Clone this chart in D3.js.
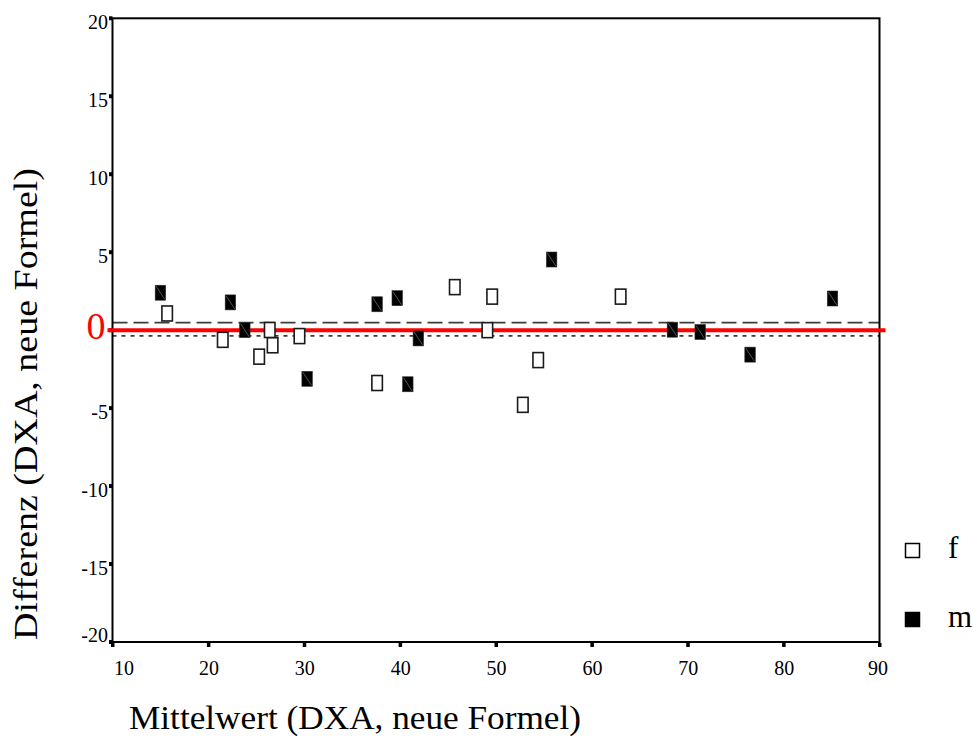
<!DOCTYPE html>
<html>
<head>
<meta charset="utf-8">
<script src="https://cdn.jsdelivr.net/npm/d3@7"></script>
<style>
  html, body { margin: 0; padding: 0; background: #fff; }
  svg { display: block; }
  text { font-family: "Liberation Serif", "Times New Roman", serif; }
</style>
</head>
<body>
<script>
// ---- data ----
const xTicks = [10, 20, 30, 40, 50, 60, 70, 80, 90];
const yTicks = [-20, -15, -10, -5, 5, 10, 15, 20];

const fMean = [15.7, 21.5, 25.3, 26.4, 26.7, 29.5, 37.6, 45.7, 49.1, 49.6, 52.8, 54.4, 63.0];
const fDiff = [1.07, -0.62, -1.70, 0.01, -0.97, -0.38, -3.39, 2.76, 0.0, 2.15, -4.79, -1.92, 2.15];

const mMean = [15.0, 22.3, 23.8, 30.3, 37.6, 39.7, 40.8, 41.9, 55.8, 68.4, 71.3, 76.5, 85.1];
const mDiff = [2.40, 1.78, 0.0, -3.12, 1.66, 2.05, -3.47, -0.53, 4.53, 0.03, -0.12, -1.57, 2.03];

const zeroLine = 0;
const dashedLine = 0.48;   // long dashes
const dottedLine = -0.37;  // short dashes

const legendItems = ["f", "m"];
const xTitle = "Mittelwert (DXA, neue Formel)";
const yTitle = "Differenz (DXA, neue Formel)";

// ---- drawing ----
const W = 980, H = 749;
const svg = d3.select("body").append("svg").attr("width", W).attr("height", H);

const x = d3.scaleLinear().domain([10, 90]).range([112.5, 879.5]);
const y = d3.scaleLinear().domain([-20, 20]).range([642, 18.3]);
const fmt = d => String(d);  // plain hyphen-minus as in the reference

// reference lines
const lines = svg.append("g");
lines.append("line")
  .attr("x1", x(10)).attr("x2", x(90))
  .attr("y1", y(dashedLine)).attr("y2", y(dashedLine))
  .attr("stroke", "#3c3c3c").attr("stroke-width", 1.6)
  .attr("stroke-dasharray", "15,6");
lines.append("line")
  .attr("x1", x(10)).attr("x2", x(90))
  .attr("y1", y(dottedLine)).attr("y2", y(dottedLine))
  .attr("stroke", "#3c3c3c").attr("stroke-width", 1.6)
  .attr("stroke-dasharray", "4,5");

// frame
svg.append("rect")
  .attr("x", x(10)).attr("y", y(20))
  .attr("width", x(90) - x(10)).attr("height", y(-20) - y(20))
  .attr("fill", "none").attr("stroke", "#000").attr("stroke-width", 2);

// axes (labels via d3 axes, ticks drawn as small squares)
const yAxis = svg.append("g")
  .attr("transform", `translate(${x(10)},0)`)
  .call(d3.axisLeft(y).tickValues(yTicks).tickSize(0).tickPadding(4.5).tickFormat(fmt));
yAxis.select(".domain").remove();
yAxis.selectAll("text")
  .attr("font-family", "Liberation Serif, serif")
  .attr("font-size", 20).attr("fill", "#000")
  .attr("dy", d => d === -20 ? "-0.05em" : "0.5em");

const xAxis = svg.append("g")
  .attr("transform", `translate(0,${y(-20)})`)
  .call(d3.axisBottom(x).tickValues(xTicks).tickSize(0).tickPadding(19).tickFormat(fmt));
xAxis.select(".domain").remove();
xAxis.selectAll("text")
  .attr("font-family", "Liberation Serif, serif")
  .attr("font-size", 20).attr("fill", "#000")
  .attr("text-anchor", d => d === 10 ? "start" : "middle")
  .attr("dx", d => d === 10 ? "0.05em" : (d === 90 ? "-0.1em" : 0));

svg.append("g").selectAll("rect").data(yTicks.concat([0])).join("rect")
  .attr("x", x(10) - 3.5).attr("y", d => y(d) - 2)
  .attr("width", 3.5).attr("height", 4).attr("fill", "#000");
svg.append("g").selectAll("rect").data(xTicks).join("rect")
  .attr("x", d => x(d) - 1.5).attr("y", y(-20) + 1)
  .attr("width", 3.5).attr("height", 4).attr("fill", "#000");

// red zero line and label
svg.append("line")
  .attr("x1", x(10) - 5).attr("x2", x(90) + 6)
  .attr("y1", y(zeroLine)).attr("y2", y(zeroLine))
  .attr("stroke", "#ff0000").attr("stroke-width", 4);
svg.append("text")
  .attr("x", x(10) - 7).attr("y", y(zeroLine) + 9)
  .attr("text-anchor", "end").attr("font-size", 38).attr("fill", "#ff0000")
  .text("0");

// markers
const mw = 10.5, mh = 15;
const fData = fMean.map((v, i) => ({ mx: v, dy: fDiff[i] }));
const mData = mMean.map((v, i) => ({ mx: v, dy: mDiff[i] }));

svg.append("g").selectAll("rect").data(fData).join("rect")
  .attr("x", d => x(d.mx) - mw / 2).attr("y", d => y(d.dy) - mh / 2)
  .attr("width", mw).attr("height", mh)
  .attr("fill", "#fff").attr("stroke", "#1a1a1a").attr("stroke-width", 1.6);

const mg = svg.append("g").selectAll("g").data(mData).join("g")
  .attr("transform", d => `translate(${x(d.mx) - mw / 2},${y(d.dy) - mh / 2})`);
mg.append("rect").attr("width", mw).attr("height", mh)
  .attr("fill", "#000").attr("stroke", "#333").attr("stroke-width", 0.6);
mg.append("line").attr("x1", 1).attr("y1", 1).attr("x2", mw - 1).attr("y2", mh - 1)
  .attr("stroke", "#777").attr("stroke-width", 0.7);

// legend
const legY = [550.5, 619.5];
const leg = svg.append("g").selectAll("g").data(legendItems).join("g")
  .attr("transform", (d, i) => `translate(905,${legY[i]})`);
leg.append("rect").attr("x", 0.5).attr("y", -7).attr("width", 14).attr("height", 14)
  .attr("fill", (d, i) => i === 0 ? "#fff" : "#000")
  .attr("stroke", "#000").attr("stroke-width", 1.5);
leg.append("text").attr("x", 43).attr("y", 7.5)
  .attr("font-size", 31).attr("fill", "#000")
  .text(d => d);

// axis titles
svg.append("text")
  .attr("x", 355).attr("y", 729)
  .attr("text-anchor", "middle").attr("font-size", 33)
  .attr("textLength", 452).attr("lengthAdjust", "spacingAndGlyphs")
  .text(xTitle);
svg.append("text")
  .attr("transform", "translate(37,404) rotate(-90)")
  .attr("text-anchor", "middle").attr("font-size", 34)
  .attr("textLength", 472).attr("lengthAdjust", "spacingAndGlyphs")
  .text(yTitle);
</script>
</body>
</html>
